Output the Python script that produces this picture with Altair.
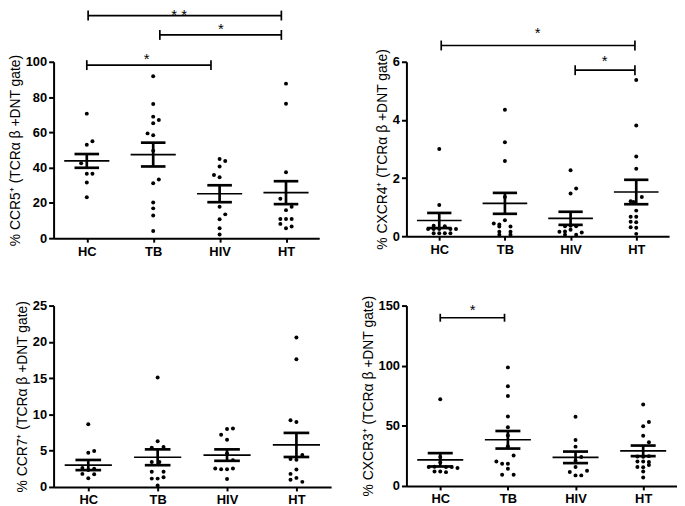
import altair as alt
import pandas as pd

groups = ["HC", "TB", "HIV", "HT"]
JIT = 0.085
MEAN_HW = 0.34
CAP_HW = 0.185

# ---------------- Panel 1: CCR5 ----------------
ccr5_vals = [
    [70.6, 55.0, 53.0, 42.5, 36.5, 36.5, 31.6, 23.2],
    [91.8, 76.0, 68.9, 67.0, 65.2, 59.4, 58.4, 49.6, 33.3, 31.1, 20.2, 16.9, 12.9, 4.1],
    [44.9, 43.8, 40.6, 35.8, 34.5, 17.8, 13.5, 10.7, 5.6, 2.1],
    [87.6, 76.2, 37.4, 22.4, 17.8, 15.9, 10.9, 10.9, 10.9, 8.1, 6.6, 5.6],
]
ccr5_slots = [
    [0, 1, 0, -1, 0, 1, 0, 0],
    [0, 0, 0, 1, 0, -1, 0, 0, 1, 0, 0, 0, 0, 0],
    [0, 1, 0, -1, 0, 0, 1, 0, 0, 0],
    [0, 0, 0, -1, 1, 0, -1, 0, 1, -1, 1, 0],
]
ccr5_mean = [43.8, 47.4, 25.2, 25.8]
ccr5_sem = [3.9, 6.75, 4.8, 6.5]
ccr5_br = {"x1": [0.02, 1.10, 0.0], "x2": [2.93, 2.93, 1.87], "y": [126.2, 115.2, 98.1],
           "sx": [1.39, 2.02, 0.90], "sy": [126.6, 118.3, 101.8], "txt": ["* *", "*", "*"]}

# ---------------- Panel 2: CXCR4 ----------------
cxcr4_vals = [
    [3.0, 1.07, 0.36, 0.34, 0.25, 0.25, 0.25, 0.25, 0.25, 0.1, 0.1, 0.1, 0.1],
    [4.35, 3.23, 2.59, 1.35, 0.55, 0.44, 0.40, 0.33, 0.33, 0.15, 0.15, 0.05, 0.05],
    [2.27, 1.64, 1.47, 0.34, 0.36, 0.34, 0.15, 0.16, 0.13, 0.22, 0.05, 0.05],
    [5.37, 3.81, 2.74, 2.32, 1.35, 1.2, 1.18, 0.88, 0.67, 0.67, 0.50, 0.48, 0.31, 0.29, 0.08],
]
cxcr4_slots = [
    [0, 0, -1, 1, -2, -1, 0, 2, 3, -1, 0, 1, 2],
    [0, 0, 0, 0, 0, -2, -1, -1, 1, -1, 1, -1, 1],
    [0, 1, 0, -1, 0, 1, -2, -1, 2, 0, -1, 1],
    [0, 0, 0, 0, 1, -1, -0.5, 0, -1, 0, -1, 0, -1, 0, 0],
]
cxcr4_mean = [0.54, 1.13, 0.615, 1.52]
cxcr4_sem = [0.26, 0.36, 0.225, 0.42]
cxcr4_br = {"x1": [0.03, 2.07], "x2": [2.98, 2.98], "y": [6.56, 5.71],
            "sx": [1.50, 2.52], "sy": [6.98, 6.01], "txt": ["*", "*"]}

# ---------------- Panel 3: CCR7 ----------------
ccr7_vals = [
    [8.65, 4.95, 4.7, 2.6, 2.35, 2.5, 1.8, 1.75, 1.2],
    [15.1, 6.3, 5.4, 5.5, 3.45, 3.45, 2.1, 2.1, 1.15, 1.15, 1.35, 0.2],
    [8.0, 8.05, 7.2, 6.5, 3.7, 2.55, 2.45, 2.45, 2.55, 1.1, 4.6],
    [20.6, 17.6, 9.2, 8.95, 4.4, 3.85, 3.75, 2.4, 1.8, 1.25, 1.0, 0.7],
]
ccr7_slots = [
    [0, 1, 0, -1, 0, 1, -1, 1, 0],
    [0, 0, -1, 1, -1, 0.3, -1, 1, -1, 0, 1, 0],
    [0, 1, -1, 0, 1, -2, -1, 0, 1, 0, 0],
    [0, 0, -1, 0, 1, -1, 0, 0, -1, 0, -1, 1],
]
ccr7_mean = [3.02, 4.09, 4.39, 5.79]
ccr7_sem = [0.70, 1.09, 0.79, 1.66]
ccr7_br = None

# ---------------- Panel 4: CXCR3 ----------------
cxcr3_vals = [
    [72.1, 24.0, 19.5, 15.7, 16.0, 15.7, 15.7, 15.0, 12.0, 12.0, 11.5],
    [98.6, 82.9, 74.8, 57.7, 48.9, 42.0, 33.0, 25.3, 20.3, 18.4, 18.4, 14.3, 9.3, 9.3],
    [57.5, 38.3, 32.7, 24.0, 21.0, 15.7, 11.6, 12.7, 8.8, 8.8],
    [67.7, 53.2, 49.6, 41.8, 36.4, 24.5, 24.2, 24.8, 20.3, 20.3, 20.0, 15.7, 15.5, 17.5, 12.0, 7.0],
]
cxcr3_slots = [
    [0, 0, 0, -2, -1, 1, 2, 3, -1, 0, 1],
    [0, 0, 0, 0, 0, 0, 0, 1, -2, -1, 0, 0, -1, 1],
    [0, 0, 0, 1, 0, 0, -1, 2, 0, 1],
    [0, 1, 0, 0, 1, -1, 0, 1, -1, 0, 1, -1, 0, 1, 0, 0],
]
cxcr3_mean = [21.75, 38.4, 23.8, 29.2]
cxcr3_sem = [5.55, 7.3, 4.8, 4.4]
cxcr3_br = {"x1": [0.0], "x2": [0.95], "y": [139.9], "sx": [0.48], "sy": [146.4], "txt": ["*"]}

FONT = "Liberation Sans"


def panel(title, vals, slots, means, sems, ymax, yticks, width, height, br, cap):
    rows = []
    for gi, (vs, ss) in enumerate(zip(vals, slots)):
        for v, s in zip(vs, ss):
            rows.append({"x": gi + s * JIT, "v": v})
    pts = pd.DataFrame(rows)
    st = pd.DataFrame({"i": list(range(4)), "mean": means, "sem": sems})
    st["lo"] = st["mean"] - st["sem"]
    st["hi"] = st["mean"] + st["sem"]
    st["m1"] = st["i"] - MEAN_HW
    st["m2"] = st["i"] + MEAN_HW
    st["c1"] = st["i"] - CAP_HW
    st["c2"] = st["i"] + CAP_HW

    xs = alt.Scale(domain=[-0.5, 3.5], nice=False, zero=False)
    ys = alt.Scale(domain=[0, ymax], nice=False, zero=False)
    xaxis = alt.Axis(values=[0, 1, 2, 3],
                     labelExpr="['HC','TB','HIV','HT'][datum.value]",
                     title=None, grid=False, tickSize=4, tickWidth=2, domainWidth=2,
                     labelFontSize=13, labelFontWeight="bold", labelPadding=3,
                     labelFont=FONT)
    yaxis = alt.Axis(values=yticks, title=title, grid=False, tickSize=5, tickWidth=2,
                     domainWidth=2, labelFontSize=13, labelFontWeight="bold",
                     labelPadding=2, labelFont=FONT, titleFont=FONT, titleFontSize=14,
                     titleFontWeight="normal", titlePadding=3)

    def X(f):
        return alt.X(f, scale=xs, axis=xaxis)

    def Y(f):
        return alt.Y(f, scale=ys, axis=yaxis)

    layers = [
        alt.Chart(pts).mark_circle(size=16, color="black", opacity=1).encode(
            x=X("x:Q"), y=Y("v:Q")),
        alt.Chart(st).mark_rule(color="black", strokeWidth=1.7).encode(
            x=X("m1:Q"), x2="m2:Q", y=Y("mean:Q")),
        alt.Chart(st).mark_rule(color="black", strokeWidth=2.7).encode(
            x=X("c1:Q"), x2="c2:Q", y=Y("hi:Q")),
        alt.Chart(st).mark_rule(color="black", strokeWidth=2.7).encode(
            x=X("c1:Q"), x2="c2:Q", y=Y("lo:Q")),
        alt.Chart(st).mark_rule(color="black", strokeWidth=2.7).encode(
            x=X("i:Q"), y=Y("lo:Q"), y2="hi:Q"),
    ]
    if br:
        b = pd.DataFrame(br)
        b["ylo"] = b["y"] - cap
        b["yhi"] = b["y"] + cap
        layers += [
            alt.Chart(b).mark_rule(color="black", strokeWidth=1.7).encode(
                x=X("x1:Q"), x2="x2:Q", y=Y("y:Q")),
            alt.Chart(b).mark_rule(color="black", strokeWidth=1.7).encode(
                x=X("x1:Q"), y=Y("ylo:Q"), y2="yhi:Q"),
            alt.Chart(b).mark_rule(color="black", strokeWidth=1.7).encode(
                x=X("x2:Q"), y=Y("ylo:Q"), y2="yhi:Q"),
            alt.Chart(b).mark_text(fontSize=15, font=FONT, color="black",
                                   baseline="middle").encode(
                x=X("sx:Q"), y=Y("sy:Q"), text="txt:N"),
        ]
    return alt.layer(*layers).properties(width=width, height=height)


p1 = panel("% CCR5⁺ (TCRα β +DNT gate)", ccr5_vals, ccr5_slots, ccr5_mean, ccr5_sem,
           100, [0, 20, 40, 60, 80, 100], 268, 178, ccr5_br, 2.8)
p2 = panel("% CXCR4⁺ (TCRα β +DNT gate)", cxcr4_vals, cxcr4_slots, cxcr4_mean, cxcr4_sem,
           6, [0, 2, 4, 6], 265, 176, cxcr4_br, 0.17)
p3 = panel("% CCR7⁺ (TCRα β +DNT gate)", ccr7_vals, ccr7_slots, ccr7_mean, ccr7_sem,
           25, [0, 5, 10, 15, 20, 25], 280, 183, ccr7_br, 0)
p4 = panel("% CXCR3⁺ (TCRα β +DNT gate)", cxcr3_vals, cxcr3_slots, cxcr3_mean, cxcr3_sem,
           150, [0, 50, 100, 150], 273, 182, cxcr3_br, 3.3)

chart = alt.concat(p1, p2, p3, p4, columns=2, spacing={"row": 68, "column": 76},
                   bounds="flush", align="each").properties(
    padding={"left": 0, "top": -3, "right": 0, "bottom": 0},
    background="white"
).configure_view(strokeWidth=0, stroke="transparent").configure_axis(
    domainColor="black", tickColor="black", labelColor="black", titleColor="black"
)

chart.save("out.html", embed_options={"renderer": "svg", "actions": False})
